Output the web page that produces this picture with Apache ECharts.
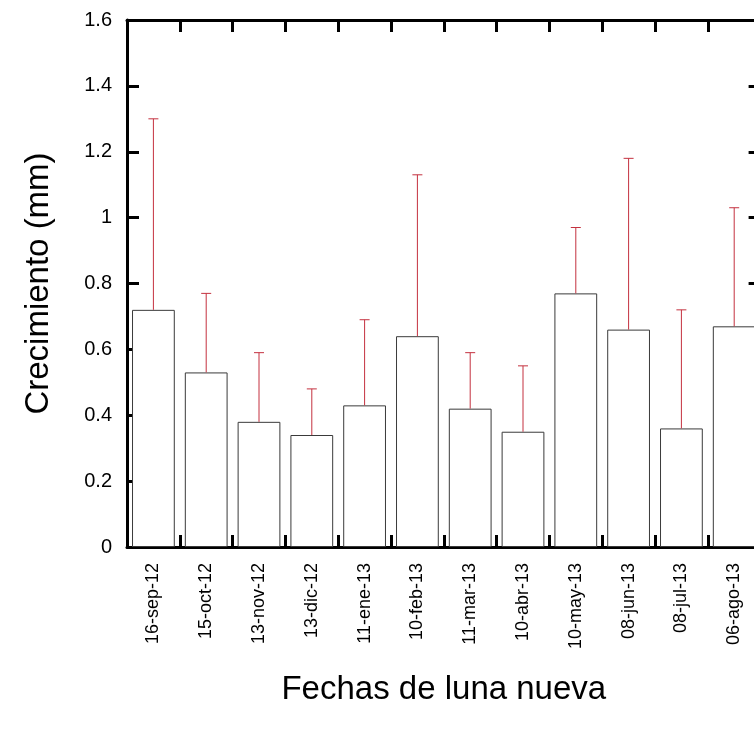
<!DOCTYPE html>
<html>
<head>
<meta charset="utf-8">
<script src="https://cdn.jsdelivr.net/npm/echarts@6/dist/echarts.min.js"></script>
<style>
  html, body { margin: 0; padding: 0; background: #fff; overflow: hidden; }
  #chart { width: 770px; height: 731px; }
</style>
</head>
<body>
<div id="chart"></div>
<script>
// Fechas de luna nueva (categorías del eje X)
const fechas = ['16-sep-12', '15-oct-12', '13-nov-12', '13-dic-12', '11-ene-13', '10-feb-13',
                '11-mar-13', '10-abr-13', '10-may-13', '08-jun-13', '08-jul-13', '06-ago-13'];
// Crecimiento medio (mm)
const crecimiento = [0.72, 0.53, 0.38, 0.34, 0.43, 0.64, 0.42, 0.35, 0.77, 0.66, 0.36, 0.67];
// Extremo superior de la barra de error (mm)
const errorSuperior = [1.30, 0.77, 0.59, 0.48, 0.69, 1.13, 0.59, 0.55, 0.97, 1.18, 0.72, 1.03];
// Marcas del eje Y
const yMin = 0, yMax = 1.6, yPaso = 0.2;

const FONT = 'Liberation Sans, Arial, sans-serif';
const frame = { color: '#000', width: 3 };

const errorData = fechas.map((f, i) => [i, crecimiento[i], errorSuperior[i]]);

const chart = echarts.init(document.getElementById('chart'), null, { renderer: 'canvas' });
chart.setOption({
  animation: false,
  backgroundColor: '#fff',
  grid: { left: 127, top: 20, right: 9.4, bottom: 184, containLabel: false },
  xAxis: [
    {
      type: 'category', data: fechas, position: 'bottom',
      axisLine: { show: true, onZero: false, lineStyle: frame },
      axisTick: { show: true, inside: true, interval: 0, length: 12, lineStyle: frame },
      axisLabel: { interval: 0, rotate: 90, fontSize: 18, margin: 16, color: '#000', fontFamily: FONT },
      name: 'Fechas de luna nueva', nameLocation: 'middle', nameGap: 126,
      nameTextStyle: { fontSize: 33, color: '#000', fontFamily: FONT }
    },
    {
      type: 'category', data: fechas, position: 'top',
      axisLine: { show: true, onZero: false, lineStyle: frame },
      axisTick: { show: true, inside: true, interval: 0, length: 12, lineStyle: frame },
      axisLabel: { show: false }
    }
  ],
  yAxis: [
    {
      type: 'value', min: yMin, max: yMax, interval: yPaso, position: 'left',
      splitLine: { show: false },
      axisLine: { show: true, onZero: false, lineStyle: frame },
      axisTick: { show: true, inside: true, length: 12, lineStyle: frame },
      axisLabel: { fontSize: 20, margin: 15, color: '#000', fontFamily: FONT },
      name: 'Crecimiento (mm)', nameLocation: 'middle', nameGap: 72, nameRotate: 90,
      nameTextStyle: { fontSize: 33, color: '#000', fontFamily: FONT }
    },
    {
      type: 'value', min: yMin, max: yMax, interval: yPaso, position: 'right',
      splitLine: { show: false },
      axisLine: { show: true, onZero: false, lineStyle: frame },
      axisTick: { show: true, inside: true, length: 12, lineStyle: frame },
      axisLabel: { show: false }
    }
  ],
  series: [
    {
      type: 'bar', data: crecimiento, barWidth: '81%',
      itemStyle: { color: '#fff', borderColor: '#3a3a3a', borderWidth: 1 },
      z: 2
    },
    {
      type: 'custom', data: errorData, z: 3,
      encode: { x: 0, y: [1, 2] },
      renderItem: function (params, api) {
        const i = api.value(0);
        const base = api.coord([i, api.value(1)]);
        const top = api.coord([i, api.value(2)]);
        const half = 5;
        const style = { stroke: '#c4313f', lineWidth: 1 };
        return {
          type: 'group',
          children: [
            { type: 'line', shape: { x1: base[0], y1: base[1], x2: top[0], y2: top[1] }, style: style },
            { type: 'line', shape: { x1: top[0] - half, y1: top[1], x2: top[0] + half, y2: top[1] }, style: style }
          ]
        };
      }
    }
  ]
});
</script>
</body>
</html>
